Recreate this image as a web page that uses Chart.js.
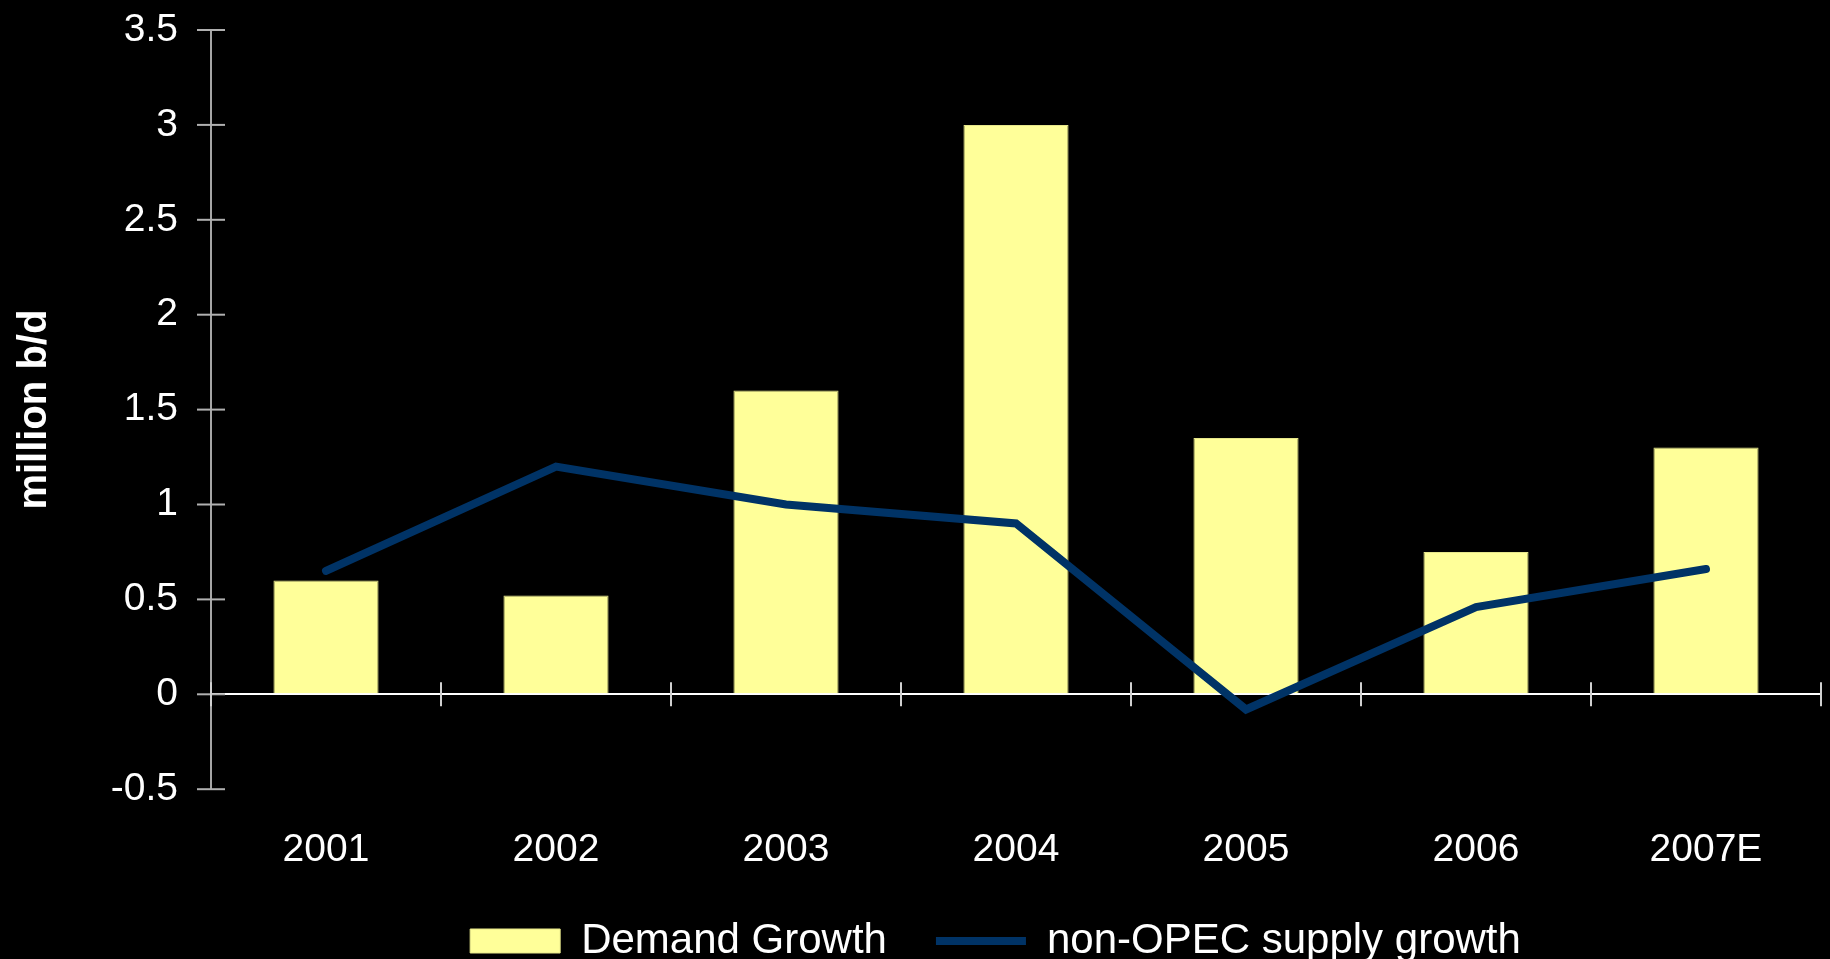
<!DOCTYPE html>
<html>
<head>
<meta charset="utf-8">
<script src="https://cdn.jsdelivr.net/npm/chart.js@4"></script>
<style>
  html, body { margin: 0; padding: 0; background: #000; overflow: hidden; }
</style>
</head>
<body>
<canvas id="myChart" width="1830" height="959"></canvas>
<script>
// DATA
let years = ['2001', '2002', '2003', '2004', '2005', '2006', '2007E'];
let demandGrowth = [0.6, 0.52, 1.6, 3.0, 1.35, 0.75, 1.3];
let supplyGrowth = [0.65, 1.2, 1.0, 0.9, -0.08, 0.46, 0.66];
let yTicks = [-0.5, 0, 0.5, 1, 1.5, 2, 2.5, 3, 3.5];

let fontName = "'Liberation Sans', Arial, sans-serif";

// small ticks crossing the axes, like the original
let crossTicks = {
  id: 'crossTicks',
  beforeDatasetsDraw(chart) {
    let c = chart.ctx;
    let x = chart.scales.x;
    let y = chart.scales.y;
    let y0 = y.getPixelForValue(0);
    c.save();
    c.lineWidth = 2;
    c.strokeStyle = '#b0b0b0';
    y.ticks.forEach(t => {
      let py = y.getPixelForValue(t.value);
      c.beginPath();
      c.moveTo(y.right - 14, py);
      c.lineTo(y.right + 14, py);
      c.stroke();
    });
    c.strokeStyle = '#d0d0d0';
    for (let i = 0; i <= years.length; i++) {
      let px = x.getPixelForValue(i - 0.5);
      c.beginPath();
      c.moveTo(px, y0 - 12);
      c.lineTo(px, y0 + 12);
      c.stroke();
    }
    c.restore();
  },
  afterLayout(chart) {
    // legend sits a bit right of the page centre and closer to the axis labels
    chart.legend.left += 85;
    chart.legend.right += 85;
    chart.legend.top -= 33;
    chart.legend.bottom -= 33;
  }
};

let ctx = document.getElementById('myChart').getContext('2d');
let myChart = new Chart(ctx, {
  data: {
    labels: years,
    datasets: [{
      type: 'bar',
      label: 'Demand Growth',
      data: demandGrowth,
      backgroundColor: '#FFFF99',
      borderColor: '#E6E68A',
      borderWidth: 1,
      pointStyle: 'rect',
      categoryPercentage: 1,
      barPercentage: 0.457,
      order: 2
    }, {
      type: 'line',
      label: 'non-OPEC supply growth',
      data: supplyGrowth,
      borderColor: '#003366',
      backgroundColor: '#003366',
      borderWidth: 8,
      borderCapStyle: 'round',
      pointStyle: 'line',
      pointRadius: 0,
      tension: 0,
      order: 1
    }]
  },
  options: {
    responsive: false,
    animation: false,
    devicePixelRatio: 1,
    layout: { padding: { top: 30, right: 9, left: 0, bottom: -46 } },
    plugins: {
      tooltip: { enabled: false },
      legend: {
        position: 'bottom',
        labels: {
          color: '#ffffff',
          font: { family: fontName, size: 42, lineHeight: 1 },
          usePointStyle: true,
          pointStyleWidth: 90,
          boxHeight: 24,
          padding: 49,
          sort: (a, b) => a.datasetIndex - b.datasetIndex
        }
      }
    },
    scales: {
      x: {
        offset: true,
        grid: { display: false },
        border: { display: false },
        ticks: {
          color: '#ffffff',
          font: { family: fontName, size: 39 },
          padding: 30,
          maxRotation: 0
        }
      },
      y: {
        min: -0.5,
        max: 3.5,
        afterBuildTicks: (scale) => {
          scale.ticks = yTicks.map(v => ({ value: v }));
        },
        afterFit: (scale) => {
          scale.width = 211;
          scale.paddingTop = 0;
          scale.paddingBottom = 0;
        },
        title: {
          display: true,
          text: 'million b/d',
          color: '#ffffff',
          font: { family: fontName, size: 40, weight: 'bold' },
          padding: { top: 11, bottom: 0 }
        },
        grid: {
          drawTicks: false,
          lineWidth: 2,
          color: (c) => c.tick && c.tick.value === 0 ? '#ffffff' : 'rgba(0,0,0,0)'
        },
        border: { color: '#a6a6a6', width: 2 },
        ticks: {
          color: '#ffffff',
          font: { family: fontName, size: 39 },
          padding: 33,
          callback: (v) => String(v)
        }
      }
    }
  },
  plugins: [crossTicks]
});
</script>
</body>
</html>
